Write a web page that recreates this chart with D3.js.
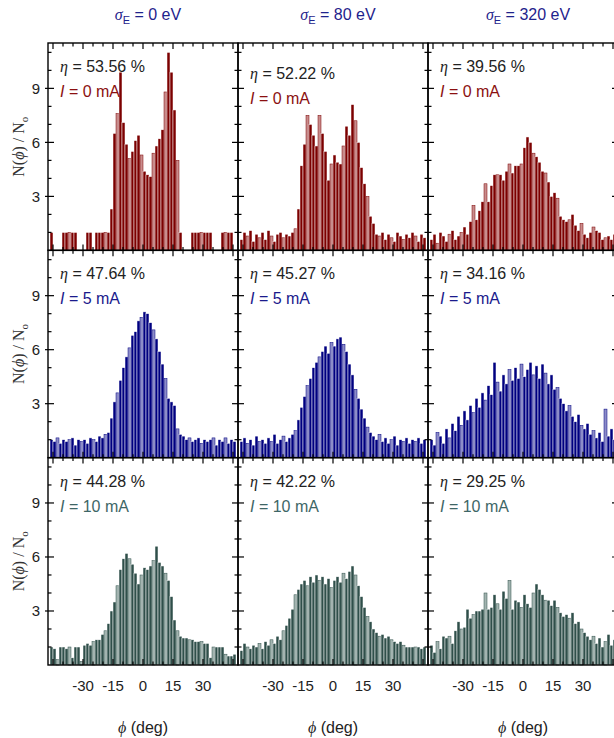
<!DOCTYPE html>
<html>
<head>
<meta charset="utf-8">
<script src="https://cdn.jsdelivr.net/npm/d3@7"></script>
<style>
body{margin:0;background:#fff}
</style>
</head>
<body>
<div id="fig"></div>
<script>
// columns: energy spread, rows: beam current
const sigmaE = [0, 80, 320];
const currents = [0, 5, 10];
const etas = [
	[53.56, 52.22, 39.56],
	[47.64, 45.27, 34.16],
	[44.28, 42.22, 29.25]
];

// histogram bins (deg)
const binStart = -46.5;
const binWidth = 1.5;

// N(phi)/No, one value per bin, 62 bins
const I0_s0 = [1,0,0,0,1,1,1,1,1,0,0,0,1,1,0,1,1,1,1,1,
	2.3,6.5,7.6,9.9,7.1,5.9,5.1,5.5,6.1,6.4,5.3,4.4,4.2,4.1,5.4,5.8,6.2,6.7,8.8,11.0,9.9,7.8,5.0,
	1,0,0,0,1,1,1,1,1,1,1,0,0,0,1,1,1,1,0];
const I0_s80 = [0.6,1.0,0.8,1.1,0.5,0.9,0.7,1.0,0.6,1.1,0.8,0.5,0.9,1.0,0.7,0.9,0.8,1.0,
	1.2,2.3,4.7,5.9,7.5,7.0,6.4,5.8,7.5,6.5,5.5,3.9,4.8,5.3,4.9,4.8,5.8,6.9,6.4,8.1,7.2,6.0,4.6,3.7,3.0,1.9,1.5,0.9,
	0.8,1.0,0.6,0.9,0.7,0.5,1.0,0.8,0.6,0.9,0.7,1.0,0.8,0.5,0.9,0.7];
const I0_s320 = [0.6,0.9,0.4,1.0,0.8,0.5,0.9,1.1,0.6,0.8,1.0,
	1.3,0.9,1.6,2.5,1.7,2.2,2.7,3.7,2.7,3.6,4.2,4.2,4.2,3.9,4.4,4.8,4.3,4.7,4.7,4.8,5.7,6.3,6.0,5.4,5.2,4.9,4.4,4.3,3.8,3.0,
	3.2,2.9,1.9,1.7,1.6,1.7,2.0,1.4,1.1,1.5,0.9,0.7,1.0,1.3,1.1,1.0,0.6,0.7,0.8,0.6,0.9];

const I5_s0 = [1.0,0.9,1.1,0.8,1.0,0.9,1.0,1.1,0.7,1.0,0.9,1.0,0.8,1.1,1.0,0.9,1.2,1.1,
	1.3,1.4,2.2,3.1,3.6,4.3,5.0,5.6,6.1,6.8,7.0,7.6,7.8,8.1,8.0,7.5,7.1,6.6,5.9,5.2,4.4,3.3,3.1,2.9,1.6,1.3,
	1.2,1.0,1.1,0.9,1.0,1.1,0.8,1.0,0.9,1.0,1.1,0.7,1.0,0.9,1.1,0.8,1.0,0.9];
const I5_s80 = [0.9,1.1,0.8,1.0,0.7,1.2,0.9,1.0,0.8,1.1,0.9,1.3,0.8,1.0,1.2,0.9,1.1,1.3,
	1.5,2.1,2.8,3.4,4.0,4.4,5.0,5.3,5.6,5.9,6.2,5.8,6.4,6.2,6.6,6.7,6.3,5.9,5.2,4.6,3.8,3.3,2.7,2.2,1.7,1.4,
	1.2,1.0,1.3,0.9,1.1,0.8,1.0,1.2,0.7,1.0,0.9,1.1,0.8,1.0,0.9,1.1,0.8,1.0];
const I5_s320 = [1.0,0.7,1.4,1.2,0.8,1.6,1.1,1.9,1.5,2.3,1.8,2.6,2.1,2.9,2.5,3.3,2.8,3.6,3.2,4.0,3.5,5.3,
	4.2,3.7,4.6,4.1,4.9,4.3,5.0,4.4,5.2,4.5,4.9,5.3,4.6,5.1,4.4,5.2,4.7,4.1,4.6,3.8,3.9,3.3,3.0,2.6,
	2.9,2.3,2.0,2.4,1.8,1.6,1.9,1.3,1.5,1.1,1.4,0.9,2.7,1.2,1.6,1.0];

const I10_s0 = [1.0,0.9,0.3,1.0,1.0,0.9,1.0,0.4,1.0,1.0,0.2,1.1,1.2,1.1,1.3,1.4,1.4,1.7,1.9,2.3,
	3.0,3.5,4.4,5.3,5.9,6.2,5.9,5.6,5.1,4.5,5.0,5.4,5.3,5.5,5.8,6.6,5.7,5.5,5.1,4.7,3.8,2.5,1.9,
	1.6,1.5,1.5,1.4,1.4,1.3,1.3,1.3,1.2,1.2,0.4,1.0,1.0,1.0,1.0,0.6,0.5,0.5,0.6];
const I10_s80 = [0.8,1.2,1.0,0.9,1.1,1.0,1.2,0.9,1.3,1.1,1.4,1.2,1.6,1.4,1.9,2.2,2.6,3.1,
	3.9,4.2,4.5,4.7,4.4,4.9,4.6,5.0,4.7,4.9,4.5,4.8,4.3,4.7,4.9,4.6,5.1,4.8,5.2,5.5,5.0,4.4,3.8,3.2,2.7,2.4,
	2.0,1.8,1.6,1.7,1.5,1.6,1.4,1.3,1.2,1.3,1.1,1.0,1.0,1.0,1.0,1.0,0.9,1.0];
const I10_s320 = [1.1,0.7,1.3,0.9,1.6,1.5,1.6,1.2,1.9,2.4,2.0,2.1,3.1,2.6,2.8,3.0,3.0,3.1,4.0,3.1,
	3.2,3.9,3.4,3.1,4.1,3.7,4.7,3.1,3.6,3.5,3.2,3.9,3.4,3.2,4.0,4.5,4.2,3.9,3.6,3.6,3.3,3.6,
	3.2,2.9,2.7,2.8,2.6,2.9,2.3,2.4,2.0,1.8,1.6,1.4,1.6,1.2,1.5,1.0,1.3,1.7,1.1,1.4];

const series = [
	[I0_s0, I0_s80, I0_s320],
	[I5_s0, I5_s80, I5_s320],
	[I10_s0, I10_s80, I10_s320]
];

const yTicks = [3, 6, 9];
const xTicks = [-30, -15, 0, 15, 30];

// row colours: bars, light bars, label
const rowColors = [
	{dark:"#7c0000", light:"#c98c8c", text:"#8b1010"},
	{dark:"#000080", light:"#8c8cc8", text:"#1a1a8c"},
	{dark:"#2f4f4a", light:"#a3b4b0", text:"#3e6666"}
];

const W = 614, H = 738;
const colLeft = [48, 238, 428];
const rowTop = [43, 250.3, 457.6];
const pw = 190, ph = 207.4;

const X = d3.scaleLinear().domain([-47.5, 47.5]).range([0, pw]);
const Y = d3.scaleLinear().domain([0, 11.52]).range([ph, 0]);

const svg = d3.select("#fig").append("svg")
	.attr("width", W).attr("height", H)
	.style("font-family", "'Liberation Sans', Arial, sans-serif");

const xMinor = d3.range(-45, 46, 5);
const yMinor = d3.range(1, 12, 1);

series.forEach((row, ri) => {
	row.forEach((vals, ci) => {
		const col = rowColors[ri];
		const g = svg.append("g")
			.attr("transform", "translate(" + colLeft[ci] + "," + rowTop[ri] + ")");

		g.selectAll(".bar").data(vals).enter().append("rect")
			.attr("class", "bar")
			.attr("x", (d, i) => X(binStart + i * binWidth))
			.attr("width", X(binWidth) - X(0))
			.attr("y", d => Y(d))
			.attr("height", d => Y(0) - Y(d))
			.style("fill", (d, i) => i % 4 === 2 ? col.light : col.dark)
			.style("stroke", (d, i) => i % 4 === 2 ? col.dark : "#fff")
			.style("stroke-width", 0.5);

		// ticks, inward on every side
		const tk = g.append("g").style("stroke", "#000").style("stroke-width", 1.2);
		xMinor.forEach(v => {
			const len = v % 15 === 0 ? 6 : 3.5;
			tk.append("line").attr("x1", X(v)).attr("x2", X(v)).attr("y1", ph).attr("y2", ph - len);
			tk.append("line").attr("x1", X(v)).attr("x2", X(v)).attr("y1", 0).attr("y2", len);
		});
		yMinor.forEach(v => {
			const len = v % 3 === 0 ? 6 : 3.5;
			tk.append("line").attr("x1", 0).attr("x2", len).attr("y1", Y(v)).attr("y2", Y(v));
			tk.append("line").attr("x1", pw).attr("x2", pw - len).attr("y1", Y(v)).attr("y2", Y(v));
			if (ci === 0 && v % 3 === 0)
				tk.append("line").attr("x1", -3).attr("x2", 0).attr("y1", Y(v)).attr("y2", Y(v));
		});

		g.append("rect").attr("width", pw).attr("height", ph)
			.style("fill", "none").style("stroke", "#000").style("stroke-width", 1.4);

		if (ci === 0) {
			g.selectAll(".ylab").data(yTicks).enter().append("text")
				.attr("x", -8).attr("y", d => Y(d))
				.attr("dy", "0.35em")
				.style("text-anchor", "end")
				.style("font-size", "15px").style("fill", "#222")
				.text(d => d);
		}
		if (ri === 2) {
			g.selectAll(".xlab").data(xTicks).enter().append("text")
				.attr("x", d => X(d)).attr("y", ph + 26)
				.style("text-anchor", "middle")
				.style("font-size", "15px").style("fill", "#222")
				.text(d => d);
		}

		// labels inside panel
		const dy = (ri === 0 && ci === 1) ? 7 : 0;
		const t1 = g.append("text").attr("x", 12).attr("y", 29 + dy)
			.style("font-size", "16px").style("fill", "#222");
		t1.append("tspan").style("font-family", "'Liberation Serif', serif").style("font-style", "italic").text("η");
		t1.append("tspan").text(" = " + etas[ri][ci].toFixed(2) + " %");

		const t2 = g.append("text").attr("x", 12).attr("y", 54 + dy)
			.style("font-size", "16px").style("fill", col.text);
		t2.append("tspan").style("font-style", "italic").text("I");
		t2.append("tspan").text(" = " + currents[ri] + " mA");
	});

	// y title
	const yt = svg.append("text")
		.attr("transform", "translate(24," + (rowTop[ri] + ph / 2) + ") rotate(-90)")
		.style("text-anchor", "middle")
		.style("font-family", "'Liberation Serif', serif")
		.style("font-size", "16px").style("fill", "#333");
	yt.append("tspan").text("N(");
	yt.append("tspan").style("font-style", "italic").text("ϕ");
	yt.append("tspan").text(") / N");
	yt.append("tspan").attr("dy", 4).style("font-size", "11px").text("o");
});

// column titles and x titles
sigmaE.forEach((s, ci) => {
	const cx = colLeft[ci] + pw / 2;
	const t = svg.append("text").attr("x", cx + 5).attr("y", 20)
		.style("text-anchor", "middle")
		.style("font-size", "16px").style("fill", "#1f238c");
	t.append("tspan").style("font-family", "'Liberation Serif', serif").style("font-style", "italic").text("σ");
	t.append("tspan").attr("dy", 4).style("font-size", "11px").text("E");
	t.append("tspan").attr("dy", -4).text(" = " + s + " eV");

	const xt = svg.append("text").attr("x", cx).attr("y", 733)
		.style("text-anchor", "middle")
		.style("font-size", "16px").style("fill", "#222");
	xt.append("tspan").style("font-family", "'Liberation Serif', serif").style("font-style", "italic").text("ϕ");
	xt.append("tspan").text(" (deg)");
});
</script>
</body>
</html>
